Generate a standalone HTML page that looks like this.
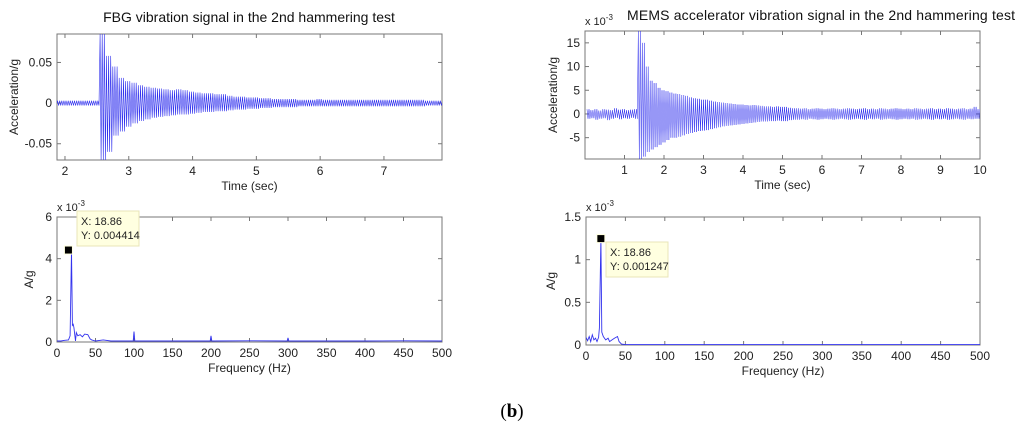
<!DOCTYPE html>
<html><head><meta charset="utf-8"><style>
html,body{margin:0;padding:0;background:#fff;}
svg{display:block;font-family:"Liberation Sans",sans-serif;}
</style></head><body>
<svg id="fig" width="1024" height="438" viewBox="0 0 1024 438">
<text x="512" y="417" text-anchor="middle" font-family="Liberation Serif,serif" font-size="19">(<tspan font-weight="bold">b</tspan>)</text>
</svg>
<script>
// ---- data ----
const fbgT0 = 1.85;
const fbgUpper = [0.003,0.003,0.003,0.003,0.003,0.003,0.003,0.085,0.058,0.045,0.031,0.027,0.025,0.022,0.02,0.019,0.018,0.017,0.016,0.017,0.016,0.014,0.013,0.012,0.012,0.011,0.011,0.009,0.008,0.008,0.007,0.007,0.006,0.006,0.005,0.005,0.005,0.005,0.004,0.004,0.004,0.005,0.004,0.004,0.004,0.004,0.004,0.004,0.004,0.004,0.004,0.004,0.004,0.004,0.004,0.004,0.004,0.004,0.003,0.003,0.003];
const fbgLower = [-0.003,-0.003,-0.003,-0.003,-0.003,-0.003,-0.003,-0.07,-0.06,-0.04,-0.035,-0.029,-0.025,-0.022,-0.02,-0.018,-0.017,-0.016,-0.015,-0.014,-0.014,-0.013,-0.012,-0.011,-0.011,-0.01,-0.01,-0.009,-0.008,-0.008,-0.007,-0.007,-0.006,-0.006,-0.005,-0.005,-0.005,-0.005,-0.004,-0.004,-0.004,-0.004,-0.004,-0.004,-0.004,-0.004,-0.004,-0.004,-0.004,-0.004,-0.004,-0.004,-0.004,-0.004,-0.004,-0.004,-0.004,-0.004,-0.003,-0.003,-0.003];
const memsT0 = 0.05;
const memsUpper = [1,0.8,1,0.7,1,0.9,0.8,1.2,0.9,1,0.8,0.9,1,17.5,15,10,7,6.5,5.5,5,4.8,4.5,4.3,4.2,4,3.8,3.5,3.3,3.2,3,3,2.8,2.6,2.5,2.4,2.3,2.2,2.1,2,2,1.9,1.8,1.9,1.8,1.7,1.6,1.6,1.5,1.6,1.5,1.5,1.3,1.2,1.2,1.1,1.2,1,1.1,1.2,1.1,1,1.1,1.2,1.1,1,1.1,1.2,1.1,1,1.1,1.2,1,1.1,1,1.2,1.1,1,1.1,1.2,1.1,1,1.1,1,1.2,1.1,1,1.1,1.2,1,1.1,1,1.2,1.1,1,1.1,1.2,1,1.1,1.5,1];
const memsLower = [-1,-0.9,-1.2,-1,-0.9,-1.3,-1,-0.8,-1.1,-0.9,-1,-0.8,-1,-9.5,-9,-8,-7.5,-7,-6.5,-6,-5.5,-5,-5,-4.8,-4.5,-4.2,-4,-3.8,-3.6,-3.5,-3.4,-3.2,-3,-2.8,-2.6,-2.5,-2.4,-2.3,-2.2,-2.1,-2,-1.9,-1.8,-1.7,-1.6,-1.6,-1.5,-1.5,-1.4,-1.5,-1.5,-1.3,-1.2,-1.2,-1.1,-1.2,-1,-1.1,-1.2,-1.1,-1,-1.1,-1.2,-1.1,-1,-1.1,-1.2,-1.1,-1,-1.1,-1.2,-1,-1.1,-1,-1.2,-1.1,-1,-1.1,-1.2,-1.1,-1,-1.1,-1,-1.2,-1.1,-1,-1.1,-1.2,-1,-1.1,-1,-1.2,-1.1,-1,-1.1,-1.2,-1,-1.1,-1,-1];
const fbgFreq = [0,5,10,15,17,18.86,20,21,22,24,25,27,30,33,36,40,43,45,50,60,70,99,100,101,150,199,200,201,250,299,300,301,350,400,450,500];
const fbgAmp  = [0.05,0.05,0.08,0.1,0.3,4.414,0.8,0.85,0.7,0.05,0.45,0.3,0.35,0.25,0.38,0.35,0.15,0.1,0.05,0.1,0.05,0.05,0.5,0.05,0.05,0.05,0.3,0.05,0.06,0.05,0.2,0.05,0.05,0.05,0.06,0.05];
const memsFreq = [0,2,4,6,8,10,12,14,16,17,18.86,20,22,25,28,30,33,36,40,42,45,50,100,200,300,400,500];
const memsAmp  = [0.09,0.05,0.1,0.04,0.12,0.06,0.08,0.04,0.09,0.2,1.247,0.15,0.1,0.06,0.08,0.04,0.06,0.08,0.1,0.04,0.01,0.005,0.005,0.005,0.005,0.005,0.005];
const fbgXTicks=[2,3,4,5,6,7], fbgYTicks=[-0.05,0,0.05], fbgYLabels=["-0.05","0","0.05"];
const memsXTicks=[1,2,3,4,5,6,7,8,9,10], memsYTicks=[-5,0,5,10,15];
const fXTicks=[0,50,100,150,200,250,300,350,400,450,500];
const fbgFYTicks=[0,2,4,6], memsFYTicks=[0,0.5,1,1.5];

const NS="http://www.w3.org/2000/svg";
const svg=document.getElementById('fig');
function el(tag,attrs,parent){const e=document.createElementNS(NS,tag);for(const k in attrs)e.setAttribute(k,attrs[k]);(parent||svg).appendChild(e);return e;}

function axes(o){
  const g=el('g',{});
  
  
  const sx=v=>o.x0+(v-o.xmin)/(o.xmax-o.xmin)*(o.x1-o.x0);
  const sy=v=>o.y1-(v-o.ymin)/(o.ymax-o.ymin)*(o.y1-o.y0);
  const cp='c'+o.name;
  const cl=el('clipPath',{id:cp},g);el('rect',{x:o.x0,y:o.y0,width:o.x1-o.x0,height:o.y1-o.y0},cl);
  const box=el('rect',{x:o.x0,y:o.y0,width:o.x1-o.x0,height:o.y1-o.y0,fill:'#fff',stroke:'#777','stroke-width':1},g);
  
  
  o.xt.forEach(v=>{const x=sx(v);
    el('line',{x1:x,x2:x,y1:o.y1,y2:o.y1-4,stroke:'#777'},g);el('line',{x1:x,x2:x,y1:o.y0,y2:o.y0+4,stroke:'#777'},g);
    const t=el('text',{x:x,y:o.y1+15,'text-anchor':'middle','font-size':12,fill:'#222'},g);t.textContent=v;
    
    });
  o.yt.forEach((v,i)=>{const y=sy(v);
    el('line',{x1:o.x0,x2:o.x0+4,y1:y,y2:y,stroke:'#777'},g);el('line',{x1:o.x1,x2:o.x1-4,y1:y,y2:y,stroke:'#777'},g);
    const t=el('text',{x:o.x0-5,y:y+4,'text-anchor':'end','font-size':12,fill:'#222'},g);t.textContent=o.yl?o.yl[i]:v;
    
    });
  const pg=el('g',{'clip-path':'url(#'+cp+')'},g);
  o.draw(pg,sx,sy);
  const xt=el('text',{x:(o.x0+o.x1)/2,y:o.y1+30,'text-anchor':'middle','font-size':12,fill:'#222'},g);xt.textContent=o.xlabel;
  
  
  const yc=(o.y0+o.y1)/2, yx=o.ylx;
  const yt=el('text',{x:yx,y:yc,'text-anchor':'middle','font-size':12,fill:'#222',transform:`rotate(-90 ${yx} ${yc})`},g);yt.textContent=o.ylabel;
  
  
  if(o.title){const tt=el('text',{x:o.tx,y:o.ty,'text-anchor':o.ta||'middle','font-size':14,fill:'#111'},g);tt.textContent=o.title;
    if(o.tl)tt.setAttribute('textLength',o.tl);
    
    }
  if(o.exp){const ex=el('text',{x:o.x0,y:o.y0-6,'font-size':11,fill:'#222'},g);ex.innerHTML='x 10<tspan dy="-5" font-size="8">-3</tspan>';
    
    }
  return {g,sx,sy};
}
function envDraw(t0,up,lo,n,w){return (pg,sx,sy)=>{
  let d='';
  for(let i=0;i<up.length;i++){for(let k=0;k<n;k++){const t=t0+0.1*i+0.1*k/n;const t2=t+0.05/n;
    d+=(d?'L':'M')+sx(t).toFixed(1)+' '+sy(up[i]).toFixed(1)+'L'+sx(t2).toFixed(1)+' '+sy(lo[i]).toFixed(1);}}
  const p=el('path',{d:d,fill:'none',stroke:'#3030ee','stroke-width':w},pg);
  
  };}
function specDraw(fr,am){return (pg,sx,sy)=>{
  const d=fr.map((f,i)=>(i?'L':'M')+sx(f).toFixed(1)+' '+sy(am[i]).toFixed(1)).join('');
  const p=el('path',{d:d,fill:'none',stroke:'#3333ee','stroke-width':0.9},pg);
  
  };}

axes({name:'fbg-time-chart',x0:57,x1:442,y0:34,y1:160,xmin:1.875,xmax:7.91,ymin:-0.07,ymax:0.085,
  xt:fbgXTicks,yt:fbgYTicks,yl:fbgYLabels,xlabel:'Time (sec)',ylabel:'Acceleration/g',ylx:18,
  title:'FBG vibration signal in the 2nd hammering test',tx:249,ty:22,draw:envDraw(fbgT0,fbgUpper,fbgLower,3,0.6)});
axes({name:'mems-time-chart',x0:585,x1:980,y0:31,y1:159,xmin:0,xmax:10,ymin:-9.5,ymax:17.5,
  xt:memsXTicks,yt:memsYTicks,xlabel:'Time (sec)',ylabel:'Acceleration/g',ylx:557,exp:true,
  title:'MEMS accelerator vibration signal in the 2nd  hammering test',tx:627,ty:20,ta:'start',tl:388,draw:envDraw(memsT0,memsUpper,memsLower,2,0.5)});

function tip(a,fx,fy,bx,by,l1,l2,name){
  const g=el('g',{},a.g);
  
  
  el('rect',{x:bx,y:by,width:62,height:35,fill:'#ffffe0',stroke:'#e8e6b8'},g);
  const t1=el('text',{x:bx+4,y:by+14,'font-size':11,fill:'#222'},g);t1.textContent=l1;
  const t2=el('text',{x:bx+4,y:by+28,'font-size':11,fill:'#222'},g);t2.textContent=l2;
  const m=el('rect',{x:a.sx(fx)-4,y:a.sy(fy)-4,width:8,height:8,fill:'#000',stroke:'#ffffe0'},g);
  
  
}
const a3=axes({name:'fbg-spectrum-chart',x0:57,x1:442,y0:217,y1:342,xmin:0,xmax:500,ymin:0,ymax:6,
  xt:fXTicks,yt:fbgFYTicks,xlabel:'Frequency (Hz)',ylabel:'A/g',ylx:33,exp:true,draw:specDraw(fbgFreq,fbgAmp)});
tip(a3,fbgFreq[5]-4,fbgAmp[5],77,211,'X: 18.86','Y: 0.004414','fbg-datatip');
const a4=axes({name:'mems-spectrum-chart',x0:586,x1:980,y0:217,y1:345,xmin:0,xmax:500,ymin:0,ymax:1.5,
  xt:fXTicks,yt:memsFYTicks,xlabel:'Frequency (Hz)',ylabel:'A/g',ylx:555,exp:true,draw:specDraw(memsFreq,memsAmp)});
tip(a4,memsFreq[10],memsAmp[10],606,242,'X: 18.86','Y: 0.001247','mems-datatip');
</script>
</body></html>
